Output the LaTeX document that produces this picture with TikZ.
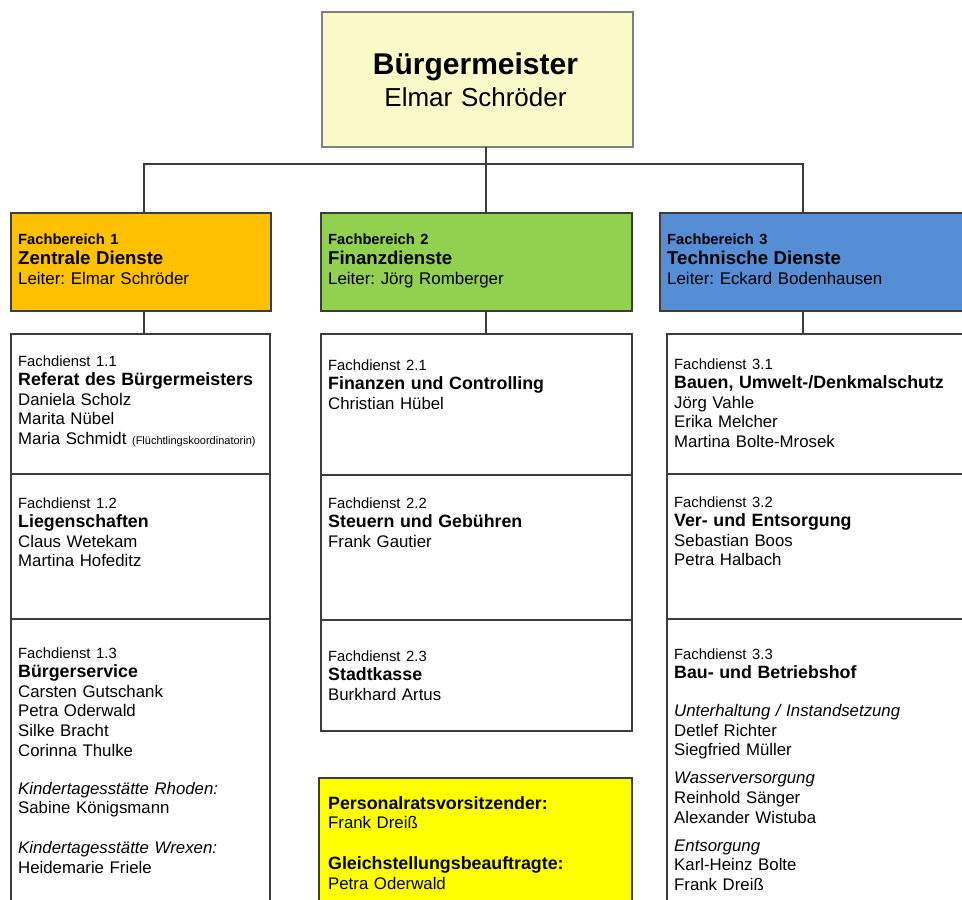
\documentclass[tikz,border=0pt]{standalone}
\usepackage{fontspec}
\setmainfont{Liberation Sans}
\usepackage{tikz}
\usetikzlibrary{positioning}
\frenchspacing

\definecolor{bmgelb}{RGB}{250,250,200}
\definecolor{fborange}{RGB}{255,192,0}
\definecolor{fbgruen}{RGB}{146,208,80}
\definecolor{fbblau}{RGB}{85,142,213}
\definecolor{prgelb}{RGB}{255,255,0}
\definecolor{linie}{RGB}{60,60,60}

\newcommand\fbno{\bfseries\fontsize{14.7}{19.6}\selectfont}
\newcommand\fbtitel{\bfseries\fontsize{18.6}{19.6}\selectfont}
\newcommand\fbleiter{\fontsize{16.9}{19.6}\selectfont}
\newcommand\fdno{\fontsize{14.8}{19.6}\selectfont}
\newcommand\fdtitel{\bfseries\fontsize{17.8}{19.6}\selectfont}
\newcommand\fdname{\fontsize{16.8}{19.6}\selectfont}
\newcommand\fdnote{\itshape\fontsize{16.8}{19.6}\selectfont}

\begin{document}
\begin{tikzpicture}[x=1pt,y=-1pt,
  box/.style={draw=linie,line width=1.4pt,anchor=north west,inner sep=0pt,outer sep=0pt},
  txt/.style={anchor=base west,inner sep=0pt,text width=290pt,align=left,font=\fdname\frenchspacing},
  conn/.style={draw=linie,line width=1.4pt}]
\useasboundingbox (0,0) rectangle (962,900);
\clip (0,0) rectangle (962,900);

% Buergermeister
\node[box,draw=gray,fill=bmgelb,minimum width=311pt,minimum height=135pt] (bm) at (322,12) {};
\node[anchor=base,inner sep=0pt,text width=300pt,align=center,font=\fontsize{26}{32}\selectfont] (bmtxt) at ([shift={(-2,62)}]bm.north) {{\fontsize{30}{32}\bfseries\selectfont B\"urgermeister}\\Elmar Schr\"oder};

% Fachbereiche
\node[box,fill=fborange,minimum width=260pt,minimum height=98pt] (fb1) at (11,213) {};
\node[box,fill=fbgruen,minimum width=311pt,minimum height=98pt] (fb2) at (321,213) {};
\node[box,fill=fbblau,minimum width=320pt,minimum height=98pt] (fb3) at (660,213) {};
\node[txt] (fb1txt) at ([shift={(7,31)}]fb1.north west) {{\fbno Fachbereich 1}\\[1pt]{\fbtitel Zentrale Dienste}\\{\fbleiter Leiter: Elmar Schr\"oder}};
\node[txt] (fb2txt) at ([shift={(7,31)}]fb2.north west) {{\fbno Fachbereich 2}\\[1pt]{\fbtitel Finanzdienste}\\{\fbleiter Leiter: J\"org Romberger}};
\node[txt] (fb3txt) at ([shift={(7,31)}]fb3.north west) {{\fbno Fachbereich 3}\\[1pt]{\fbtitel Technische Dienste}\\{\fbleiter Leiter: Eckard Bodenhausen}};

% Fachdienste 1.x
\node[box,minimum width=259pt,minimum height=140pt] (fd11) at (11,334) {};
\node[box,minimum width=259pt,minimum height=145pt] (fd12) at (11,474) {};
\node[box,minimum width=259pt,minimum height=300pt] (fd13) at (11,619) {};
\node[txt] (fd11txt) at ([shift={(7,32)}]fd11.north west) {{\fdno Fachdienst 1.1}\\{\fdtitel Referat des B\"urgermeisters}\\Daniela Scholz\\Marita N\"ubel\\Maria Schmidt {\fontsize{11}{19.6}\selectfont (Fl\"uchtlingskoordinatorin)}};
\node[txt] (fd12txt) at ([shift={(7,34)}]fd12.north west) {{\fdno Fachdienst 1.2}\\{\fdtitel Liegenschaften}\\Claus Wetekam\\Martina Hofeditz};
\node[txt] (fd13txt) at ([shift={(7,39)}]fd13.north west) {{\fdno Fachdienst 1.3}\\{\fdtitel B\"urgerservice}\\Carsten Gutschank\\Petra Oderwald\\Silke Bracht\\Corinna Thulke\\[18.4pt]{\fdnote Kindertagesst\"atte Rhoden:}\\Sabine K\"onigsmann\\[20.4pt]{\fdnote Kindertagesst\"atte Wrexen:}\\Heidemarie Friele};

% Fachdienste 2.x
\node[box,minimum width=311pt,minimum height=141pt] (fd21) at (321,334) {};
\node[box,minimum width=311pt,minimum height=145pt] (fd22) at (321,475) {};
\node[box,minimum width=311pt,minimum height=111pt] (fd23) at (321,620) {};
\node[txt] (fd21txt) at ([shift={(7,36)}]fd21.north west) {{\fdno Fachdienst 2.1}\\{\fdtitel Finanzen und Controlling}\\Christian H\"ubel};
\node[txt] (fd22txt) at ([shift={(7,33)}]fd22.north west) {{\fdno Fachdienst 2.2}\\{\fdtitel Steuern und Geb\"uhren}\\Frank Gautier};
\node[txt] (fd23txt) at ([shift={(7,41)}]fd23.north west) {{\fdno Fachdienst 2.3}\\{\fdtitel Stadtkasse}\\Burkhard Artus};

% Personalrat / Gleichstellung
\node[box,fill=prgelb,minimum width=313pt,minimum height=150pt] (pr) at (319,778) {};
\node[txt] (prtxt) at ([shift={(9,31)}]pr.north west) {{\fdtitel Personalratsvorsitzender:}\\Frank Drei\ss\\[21.4pt]{\fdtitel Gleichstellungsbeauftragte:}\\Petra Oderwald};

% Fachdienste 3.x
\node[box,minimum width=320pt,minimum height=140pt] (fd31) at (667,334) {};
\node[box,minimum width=320pt,minimum height=145pt] (fd32) at (667,474) {};
\node[box,minimum width=320pt,minimum height=300pt] (fd33) at (667,619) {};
\node[txt] (fd31txt) at ([shift={(7,35)}]fd31.north west) {{\fdno Fachdienst 3.1}\\{\fdtitel Bauen, Umwelt-/Denkmalschutz}\\J\"org Vahle\\Erika Melcher\\Martina Bolte-Mrosek};
\node[txt] (fd32txt) at ([shift={(7,33)}]fd32.north west) {{\fdno Fachdienst 3.2}\\{\fdtitel Ver- und Entsorgung}\\Sebastian Boos\\Petra Halbach};
\node[txt] (fd33txt) at ([shift={(7,40)}]fd33.north west) {{\fdno Fachdienst 3.3}\\{\fdtitel Bau- und Betriebshof}\\[18.4pt]{\fdnote Unterhaltung / Instandsetzung}\\Detlef Richter\\Siegfried M\"uller\\[8.4pt]{\fdnote Wasserversorgung}\\Reinhold S\"anger\\Alexander Wistuba\\[8.4pt]{\fdnote Entsorgung}\\Karl-Heinz Bolte\\Frank Drei\ss};

% Verbindungen
\coordinate (knotL) at (144,164);
\coordinate (knotM) at (486,164);
\coordinate (knotR) at (803,164);
\draw[conn] (knotM |- bm.south) -- (knotM |- fb2.north);
\draw[conn] (knotL |- fb1.north) -- (knotL) -- (knotR) -- (knotR |- fb3.north);
\draw[conn] (knotL |- fb1.south) -- (knotL |- fd11.north);
\draw[conn] (knotM |- fb2.south) -- (knotM |- fd21.north);
\draw[conn] (knotR |- fb3.south) -- (knotR |- fd31.north);
\end{tikzpicture}
\end{document}
